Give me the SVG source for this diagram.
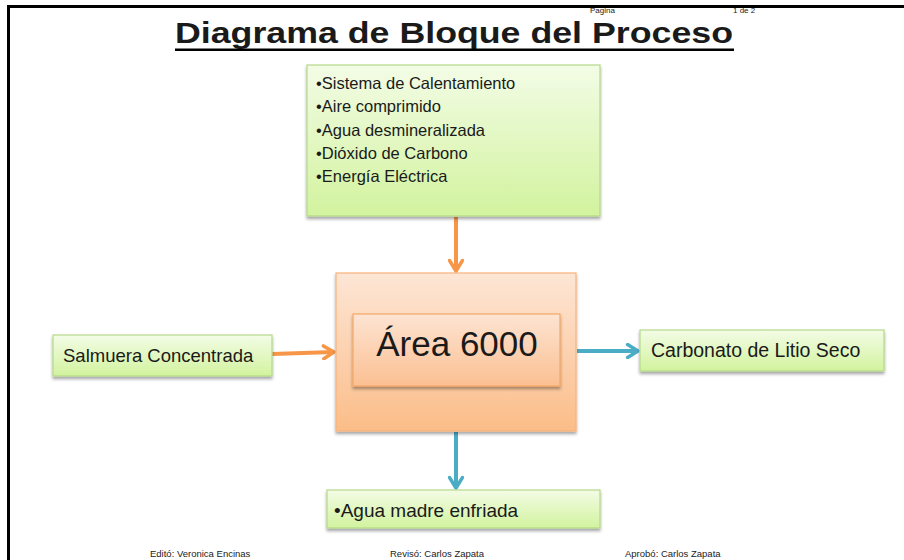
<svg xmlns="http://www.w3.org/2000/svg" width="904" height="560" viewBox="0 0 904 560">
<defs>
<linearGradient id="gGreen" x1="0" y1="0" x2="0" y2="1">
<stop offset="0" stop-color="#f3fce6"/>
<stop offset="1" stop-color="#d2f39e"/>
</linearGradient>
<linearGradient id="gOrange" x1="0" y1="0" x2="0" y2="1">
<stop offset="0" stop-color="#fde6d6"/>
<stop offset="1" stop-color="#fbbd88"/>
</linearGradient>
<linearGradient id="gOrangeIn" x1="0" y1="0" x2="0" y2="1">
<stop offset="0" stop-color="#fde4d2"/>
<stop offset="1" stop-color="#fbc092"/>
</linearGradient>
<filter id="sh" x="-10%" y="-10%" width="120%" height="130%">
<feDropShadow dx="0" dy="2.5" stdDeviation="1.5" flood-color="#000" flood-opacity="0.35"/>
</filter>
<marker id="mOrange" viewBox="0 0 10 10" refX="8" refY="5" markerWidth="4" markerHeight="4" orient="auto" markerUnits="strokeWidth">
<polyline points="1.5,1 8,5 1.5,9" fill="none" stroke="#f79646" stroke-width="2.2" stroke-linecap="round" stroke-linejoin="round"/>
</marker>
<marker id="mBlue" viewBox="0 0 10 10" refX="8" refY="5" markerWidth="4" markerHeight="4" orient="auto" markerUnits="strokeWidth">
<polyline points="1.5,1 8,5 1.5,9" fill="none" stroke="#4bacc6" stroke-width="2.2" stroke-linecap="round" stroke-linejoin="round"/>
</marker>
</defs>
<style>
.t{font-family:"Liberation Sans",Arial,sans-serif;fill:#1a1a1a}
.green{fill:url(#gGreen);stroke:#b5d98a;stroke-width:1.2;filter:url(#sh)}
.orange{fill:url(#gOrange);stroke:#f8b27c;stroke-width:1.2;filter:url(#sh)}
.orangeIn{fill:url(#gOrangeIn);stroke:#f6a766;stroke-width:1.2;filter:url(#sh)}
.ao{stroke:#f79646;stroke-width:4;fill:none;marker-end:url(#mOrange)}
.ab{stroke:#4bacc6;stroke-width:4;fill:none;marker-end:url(#mBlue)}
.foot{font-family:"Liberation Sans",Arial,sans-serif;font-size:9.5px;fill:#222}
</style>
<rect width="904" height="560" fill="#fff"/>
<path d="M8.5 560 V6.5 H904" fill="none" stroke="#000" stroke-width="3"/>
<g id="header">
<text class="foot" x="590" y="13" style="font-size:8px">Pagina</text>
<text class="foot" x="733" y="13" style="font-size:8px">1 de 2</text>
<text class="t" x="175" y="43" font-size="30" font-weight="bold" textLength="558" lengthAdjust="spacingAndGlyphs" fill="#000">Diagrama de Bloque del Proceso</text>
<rect x="175" y="48.5" width="559" height="2.5" fill="#000"/>
</g>
<g id="connectors">
<line class="ao" x1="456" y1="217" x2="456" y2="271"/>
<line class="ao" x1="272" y1="354" x2="334" y2="352"/>
<line class="ab" x1="577" y1="351" x2="638" y2="351"/>
<line class="ab" x1="456" y1="432" x2="456" y2="488"/>
</g>
<g id="inputs">
<rect class="green" x="307" y="65" width="293" height="151"/>
<text class="t" font-size="16.5">
<tspan x="316" y="89">•Sistema de Calentamiento</tspan>
<tspan x="316" y="112">•Aire comprimido</tspan>
<tspan x="316" y="135.5">•Agua desmineralizada</tspan>
<tspan x="316" y="159">•Dióxido de Carbono</tspan>
<tspan x="316" y="182">•Energía Eléctrica</tspan>
</text>
</g>
<g id="area6000">
<rect class="orange" x="336" y="273" width="240" height="158"/>
<rect class="orangeIn" x="353" y="314" width="207" height="72"/>
<text class="t" x="457" y="356" font-size="35" text-anchor="middle">Área 6000</text>
</g>
<g id="salmuera">
<rect class="green" x="53" y="335" width="219" height="41"/>
<text class="t" x="63" y="362" font-size="18.5">Salmuera Concentrada</text>
</g>
<g id="carbonato">
<rect class="green" x="640" y="330" width="244" height="41"/>
<text class="t" x="651" y="357" font-size="19.5">Carbonato de Litio Seco</text>
</g>
<g id="agua">
<rect class="green" x="327" y="490" width="273" height="38"/>
<text class="t" x="334" y="517" font-size="19">•Agua madre enfriada</text>
</g>
<g id="footer">
<text class="foot" x="150" y="557">Editó: Veronica Encinas</text>
<text class="foot" x="390" y="557">Revisó: Carlos Zapata</text>
<text class="foot" x="625" y="557">Aprobó: Carlos Zapata</text>
</g>
</svg>
